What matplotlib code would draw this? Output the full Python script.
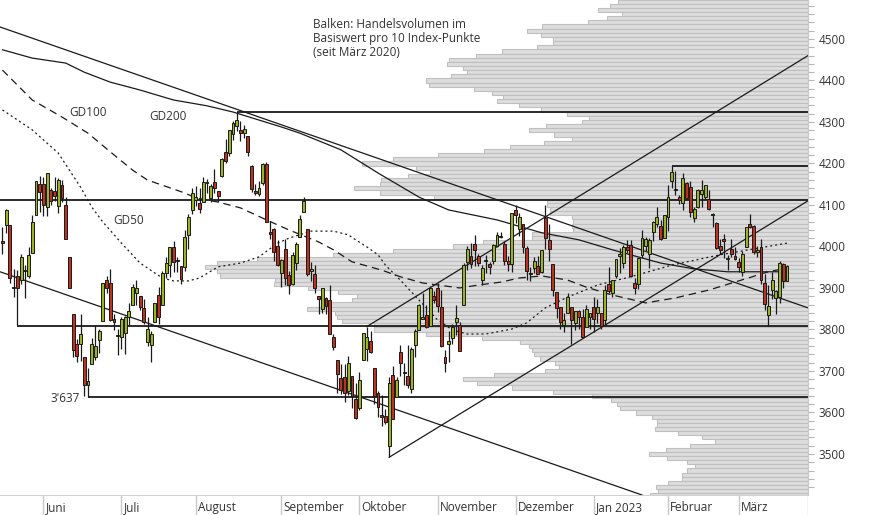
import numpy as np
import pandas as pd
import matplotlib
matplotlib.use('Agg')
import matplotlib.pyplot as plt

plt.rcParams['font.family'] = ['Open Sans', 'DejaVu Sans']

# ---------------- data ----------------
holidays = ['2022-05-30', '2022-06-20', '2022-07-04', '2022-09-05', '2022-11-24',
            '2022-12-26', '2023-01-02', '2023-01-16', '2023-02-20']
dates = pd.bdate_range('2022-05-16', '2023-03-20')
dates = dates[~dates.isin(pd.to_datetime(holidays))]

opens = [4013, 4052, 4052, 3900, 3928, 3919, 3942, 3930, 3984, 4077, 4151,
         4150, 4096, 4137, 4134, 4097, 4148, 4101, 3975, 3838, 3764, 3764, 3733, 3665, 3716, 3734, 3775, 3821, 3920, 3913, 3826, 3785,
         3782, 3792, 3831, 3859, 3889, 3880, 3852, 3770, 3763, 3819, 3883, 3860, 3935, 3955, 3998, 3965, 3953, 3951, 4027, 4088,
         4113, 4105, 4108, 4155, 4116, 4155, 4134, 4171, 4228, 4225, 4270, 4291, 4281, 4274, 4266, 4195, 4134, 4126, 4154, 4198, 4034, 4041, 4000,
         3937, 3994, 3931, 3910, 3960, 4022, 4084, 4041, 3941, 3933, 3880, 3849, 3876, 3871, 3783, 3727, 3682, 3686, 3651, 3688, 3633,
         3610, 3726, 3754, 3771, 3706, 3647, 3595, 3591, 3520, 3690, 3638, 3746, 3697, 3689, 3657, 3763, 3799, 3825, 3835, 3808, 3881,
         3901, 3853, 3733, 3766, 3780, 3817, 3810, 3859, 3963, 3977, 4007, 3977, 3919, 3966, 3957, 3965, 4000, 4024, 4005, 3964, 3958,
         4087, 4041, 4053, 3996, 3934, 3947, 3954, 3939, 4069, 4015, 3958, 3890, 3853, 3810, 3840, 3853, 3816, 3844, 3829, 3806, 3830,
         3853, 3840, 3840, 3823, 3910, 3889, 3928, 3977, 3960, 3999, 4003, 3912, 3910, 3979, 4001, 3982, 4036, 4053, 4049, 4020,
         4070, 4158, 4137, 4119, 4105, 4153, 4144, 4069, 4096, 4127, 4120, 4114, 4077, 4057, 4001, 4018, 3973, 3993, 3977,
         3963, 3938, 3998, 4055, 4049, 3987, 3998, 3912, 3835, 3894, 3876, 3878, 3958, 3917]
highs = [4046, 4090, 4052, 3946, 3944, 3981, 3955, 3999, 4075, 4158, 4169,
         4167, 4177, 4142, 4168, 4164, 4160, 4120, 3975, 3838, 3778, 3837, 3733, 3707, 3779, 3810, 3802, 3913, 3928, 3945, 3837, 3800,
         3829, 3832, 3864, 3910, 3918, 3880, 3874, 3829, 3796, 3863, 3903, 3940, 3975, 3999, 4013, 3975, 3954, 4039, 4079, 4140,
         4145, 4140, 4167, 4162, 4151, 4187, 4134, 4212, 4258, 4280, 4302, 4325, 4302, 4292, 4266, 4196, 4150, 4157, 4200, 4203, 4062, 4044, 4016,
         3970, 4019, 3942, 3987, 4011, 4077, 4119, 4041, 3962, 3956, 3880, 3900, 3877, 3907, 3790, 3727, 3716, 3717, 3736, 3688, 3672,
         3698, 3792, 3807, 3797, 3706, 3652, 3641, 3608, 3686, 3712, 3686, 3762, 3720, 3762, 3757, 3800, 3862, 3887, 3859, 3905, 3893,
         3911, 3894, 3750, 3796, 3814, 3860, 3819, 3959, 4002, 4009, 4028, 3983, 3955, 3979, 3962, 4005, 4034, 4035, 4012, 3977, 4080,
         4101, 4080, 4053, 4002, 3951, 3975, 3977, 3991, 4100, 4054, 3958, 3890, 3855, 3839, 3889, 3853, 3845, 3847, 3849, 3858, 3840,
         3879, 3874, 3840, 3907, 3951, 3920, 3970, 3997, 4003, 4015, 4015, 3923, 3973, 4039, 4023, 4020, 4061, 4095, 4064, 4077,
         4148, 4195, 4183, 4125, 4176, 4156, 4157, 4095, 4138, 4159, 4149, 4137, 4081, 4060, 4017, 4029, 3979, 4019, 3998,
         3971, 3990, 4048, 4079, 4051, 4001, 4018, 3934, 3906, 3938, 3894, 3965, 3959, 3956]
lows = [3983, 4033, 3911, 3877, 3810, 3909, 3875, 3925, 3984, 4077, 4084,
        4074, 4074, 4099, 4110, 4081, 4107, 4017, 3901, 3734, 3722, 3723, 3640, 3637, 3716, 3727, 3744, 3821, 3889, 3820, 3799, 3738,
        3753, 3742, 3810, 3859, 3860, 3847, 3813, 3759, 3722, 3817, 3814, 3860, 3925, 3927, 3939, 3938, 3910, 3942, 3993, 4079,
        4097, 4080, 4108, 4128, 4107, 4128, 4107, 4167, 4201, 4219, 4257, 4278, 4253, 4262, 4218, 4131, 4123, 4121, 4147, 4058, 4017, 3965, 3954,
        3903, 3906, 3886, 3906, 3944, 4022, 4084, 3929, 3917, 3887, 3837, 3839, 3838, 3789, 3750, 3648, 3644, 3624, 3641, 3610, 3584,
        3605, 3726, 3723, 3744, 3620, 3588, 3568, 3571, 3492, 3583, 3638, 3687, 3667, 3659, 3647, 3733, 3799, 3825, 3803, 3808, 3863,
        3843, 3758, 3698, 3722, 3764, 3787, 3747, 3859, 3944, 3949, 3954, 3954, 3906, 3935, 3933, 3957, 3998, 4020, 3956, 3941, 3938,
        4057, 4026, 3984, 3918, 3916, 3936, 3934, 3936, 3993, 3965, 3880, 3828, 3800, 3795, 3839, 3765, 3798, 3801, 3781, 3806, 3800,
        3795, 3815, 3802, 3810, 3888, 3877, 3925, 3937, 3948, 3984, 3926, 3885, 3898, 3972, 3990, 3949, 4013, 4048, 4015, 4020,
        4037, 4141, 4123, 4103, 4089, 4111, 4070, 4060, 4093, 4096, 4114, 4089, 4048, 3995, 3982, 3972, 3944, 3974, 3968,
        3939, 3928, 3998, 4044, 3981, 3974, 3909, 3846, 3809, 3874, 3838, 3864, 3901, 3917]
closes = [4008, 4089, 3924, 3901, 3901, 3974, 3941, 3979, 4058, 4158, 4132,
          4101, 4177, 4109, 4121, 4161, 4116, 4018, 3901, 3750, 3735, 3790, 3667, 3675, 3765, 3760, 3796, 3912, 3900, 3822, 3819, 3785,
          3825, 3831, 3845, 3903, 3899, 3854, 3819, 3802, 3790, 3863, 3831, 3937, 3960, 3999, 3962, 3967, 3921, 4024, 4072, 4130,
          4119, 4091, 4155, 4152, 4145, 4140, 4122, 4210, 4207, 4280, 4297, 4305, 4274, 4284, 4228, 4138, 4129, 4141, 4199, 4058, 4031, 3986, 3955,
          3967, 3924, 3908, 3980, 4006, 4067, 4110, 3933, 3946, 3901, 3873, 3900, 3856, 3790, 3758, 3693, 3655, 3647, 3719, 3640, 3586,
          3678, 3791, 3783, 3745, 3640, 3612, 3589, 3577, 3670, 3583, 3678, 3720, 3695, 3666, 3753, 3797, 3859, 3831, 3807, 3901, 3872,
          3856, 3760, 3720, 3771, 3807, 3828, 3749, 3956, 3993, 3957, 3992, 3959, 3947, 3965, 3950, 4004, 4027, 4026, 3964, 3958, 4080,
          4077, 4072, 3999, 3941, 3934, 3964, 3934, 3991, 4020, 3995, 3896, 3852, 3818, 3822, 3878, 3822, 3845, 3829, 3783, 3849, 3840,
          3824, 3853, 3808, 3895, 3892, 3919, 3970, 3983, 3999, 3991, 3929, 3899, 3973, 4020, 4017, 4016, 4060, 4071, 4018, 4077,
          4119, 4180, 4136, 4111, 4164, 4118, 4082, 4090, 4137, 4136, 4148, 4090, 4079, 3997, 3991, 4012, 3970, 3982, 3970,
          3951, 3981, 4046, 4048, 3986, 3992, 3918, 3862, 3856, 3919, 3892, 3960, 3917, 3952]

# moving averages (trading-day number, level)
gd200_day = [0, 8, 17, 22, 29, 37, 46, 55, 62, 75, 80, 91, 101, 112, 120, 133, 145, 155, 164, 177, 186, 195, 211]
gd200_val = [4474, 4454, 4442, 4420, 4396, 4377, 4353, 4339, 4324, 4288, 4273, 4233, 4177, 4119, 4088, 4064, 4033, 4016,
             3992, 3960, 3946, 3939, 3939]
gd100_day = [0, 8, 16, 23, 29, 35, 39, 49, 52, 58, 64, 71, 77, 85, 89, 94, 102, 107, 113, 123, 128, 134, 139, 145, 152,
             157, 164, 173, 181, 190, 198, 206, 211]
gd100_val = [4425, 4353, 4312, 4273, 4228, 4184, 4160, 4129, 4117, 4107, 4093, 4064, 4040, 4011, 3992, 3963, 3943, 3927,
             3912, 3900, 3907, 3914, 3924, 3929, 3919, 3902, 3883, 3864, 3876, 3895, 3917, 3939, 3948]
gd50_day = [0, 8, 15, 21, 24, 27, 32, 37, 43, 46, 50, 53, 58, 64, 69, 74, 77, 83, 89, 93, 95, 98, 101, 103, 107, 112,
            117, 121, 125, 130, 137, 141, 146, 152, 160, 169, 180, 193, 211]
gd50_val = [4329, 4281, 4225, 4143, 4095, 4059, 4008, 3960, 3924, 3917, 3917, 3924, 3951, 3960, 3975, 4008, 4020, 4037,
            4037, 4028, 4016, 3999, 3980, 3955, 3919, 3871, 3823, 3799, 3789, 3789, 3801, 3816, 3852, 3878, 3907, 3927,
            3955, 3980, 4008]

# volume profile: traded volume per 10 index points (relative units)
vol_price = list(range(4590, 3395, -10))
vol_amount = [190, 198, 210, 186, 201, 220, 266, 281, 267, 255, 255, 271, 306, 332, 359, 361, 345, 341, 357, 382,
              379, 334, 316, 305, 311, 289, 267, 241, 219, 226, 262, 279, 254, 236, 264, 298, 324, 370, 415, 446,
              392, 378, 400, 427, 428, 454, 428, 374, 261, 261, 258, 258, 236, 235, 236, 235, 276, 276, 325, 355,
              415, 475, 551, 591, 603, 591, 588, 533, 534, 500, 470, 451, 456, 478, 501, 473, 471, 466, 434, 434,
              382, 326, 288, 279, 276, 274, 268, 253, 249, 263, 314, 345, 331, 296, 255, 216, 197, 191, 188, 172,
              156, 151, 151, 153, 130, 106, 93, 118, 142, 159, 141, 121, 113, 121, 126, 126, 140, 152, 150, 158]

# horizontal support / resistance lines (level, start day)
hline_level = [4325, 4195, 4113, 3809, 3637]
hline_start = [63, 180, -0.67, 4, 23]

# trend lines (start day, start level, end day, end level)
trend_lines = [(-0.67, 4529, 216.64, 3852),
               (-0.67, 3939, 172.0, 3401),
               (104, 3492, 216.64, 4110),
               (98, 3807, 216.64, 4460)]

month_labels = ['Juni', 'Juli', 'August', 'September', 'Oktober', 'November',
                'Dezember', 'Jan 2023', 'Februar', 'März']

# ---------------- figure ----------------
W, H = 874, 515
fig = plt.figure(figsize=(W / 100, H / 100), dpi=100)
pos = [0, 20 / H, 808 / W, 495 / H]
XMIN, XMAX = -0.67, 216.64
YMIN, YMAX = 3401, 4594

ax_vol = fig.add_axes(pos)
ax_vol.barh(vol_price, vol_amount, height=10, left=0, color='#dddddd', edgecolor='#bfbfbf', linewidth=0.8)
ax_vol.set_xlim(808, 0)
ax_vol.set_ylim(YMIN, YMAX)
ax_vol.axis('off')

ax = fig.add_axes(pos)
ax.patch.set_visible(False)
ax.set_xlim(XMIN, XMAX)
ax.set_ylim(YMIN, YMAX)

o = np.array(opens, float)
h = np.array(highs, float)
l = np.array(lows, float)
c = np.array(closes, float)
x = np.arange(len(dates))

# horizontal lines
for lev, st in zip(hline_level, hline_start):
    ax.plot([st, XMAX], [lev, lev], color='#1a1a1a', lw=1.3, zorder=2, solid_capstyle='butt')

# trend lines
for d0, p0, d1, p1 in trend_lines:
    ax.plot([d0, d1], [p0, p1], color='#1a1a1a', lw=0.9, zorder=2)

# moving averages
ax.plot(gd200_day, gd200_val, color='#1a1a1a', lw=0.9, zorder=2)
ax.plot(gd100_day, gd100_val, color='#1a1a1a', lw=0.9, dashes=(6, 4), zorder=2)
ax.plot(gd50_day, gd50_val, color='#1a1a1a', lw=0.9, dashes=(1.6, 2.4), zorder=2)

# candles
up = c >= o
body_low = np.minimum(o, c)
body_h = np.maximum(np.abs(c - o), 1.5)
ax.vlines(x, l, h, color='#1a1a1a', lw=0.9, zorder=3)
ax.bar(x, body_h, bottom=body_low, width=0.78,
       color=np.where(up, '#9ab51f', '#c0301f'), edgecolor='#1a1a1a', linewidth=0.7, zorder=4)

# right axis
ax.yaxis.tick_right()
ax.set_yticks(np.arange(3500, 4501, 100))
ax.set_yticks(np.arange(3420, 4594, 20), minor=True)
ax.tick_params(axis='y', which='both', direction='out', length=4.5, width=0.8, color='#b5b5b5',
               labelsize=8.5, labelcolor='#333333', pad=3)
ax.set_xticks([])
for s in ['left', 'top', 'bottom']:
    ax.spines[s].set_visible(False)
ax.spines['right'].set_color('#c8c8c8')
ax.spines['right'].set_linewidth(0.8)

# bottom band with months
axb = fig.add_axes([0, 0, 808 / W, 20 / H])
axb.set_xlim(XMIN, XMAX)
axb.set_ylim(0, 1)
axb.axis('off')
months = pd.Series(dates.to_period('M'))
first_idx = months.drop_duplicates().index[1:]
axb.axhline(1, color='#c8c8c8', lw=1.2)
axb.vlines(list(first_idx) + [XMAX - 0.05], 0, 1, color='#c8c8c8', lw=1.0)
for i, lab in zip(first_idx, month_labels):
    axb.text(i + 0.55, 0.38, lab, fontsize=8.5, color='#333333', va='center', ha='left')

# annotations
def ftext(px, py, s, **kw):
    fig.text(px / W, 1 - py / H, s, fontsize=8.5, color='#333333', va='center', **kw)

ftext(69, 112, 'GD100', ha='left')
ftext(149, 117, 'GD200', ha='left')
ftext(113, 220, 'GD50', ha='left')
ftext(80, 398, "3'637", ha='right')
ftext(313, 24, 'Balken: Handelsvolumen im', ha='left')
ftext(313, 38.5, 'Basiswert pro 10 Index-Punkte', ha='left')
ftext(313, 53, '(seit März 2020)', ha='left')

fig.savefig('out.png', dpi=100, facecolor='white')
